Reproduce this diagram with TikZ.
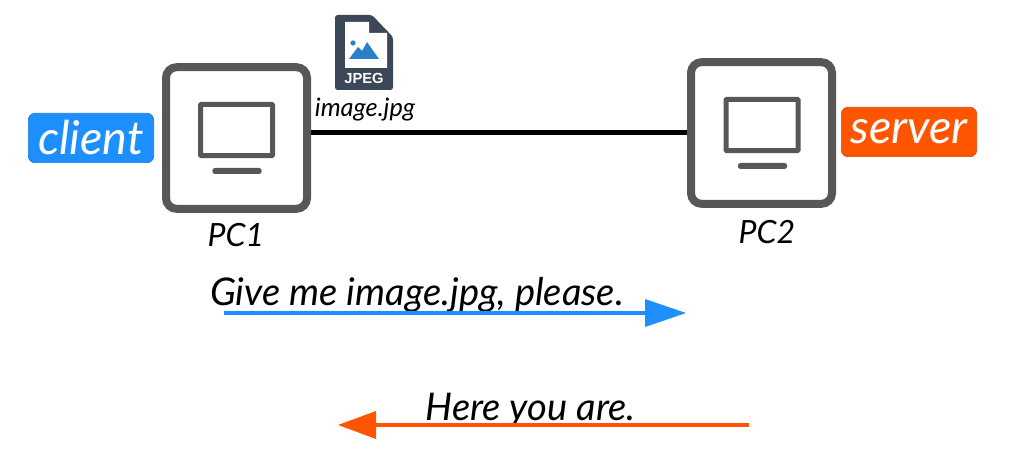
\documentclass[tikz,border=0pt]{standalone}
\usepackage{fontspec}
\setmainfont{Liberation Sans}
\newfontfamily\hand{Lato}
\definecolor{pcgrey}{HTML}{575757}
\definecolor{cblue}{HTML}{1E8FFF}
\definecolor{corange}{HTML}{FF5500}
\definecolor{filedark}{HTML}{3C4858}
\definecolor{fileblue}{HTML}{2A7FC9}
\tikzset{
 pcbox/.style={draw=pcgrey,line width=6pt,rounded corners=8pt,minimum width=105.75pt,minimum height=106.25pt,inner sep=0pt,fill=white},
 screen/.style={draw=pcgrey,line width=3.75pt,rounded corners=0.6pt,minimum width=54pt,minimum height=38.5pt,inner sep=0pt,fill=white},
 standbar/.style={fill=pcgrey,rounded corners=2pt,minimum width=37pt,minimum height=4.5pt,inner sep=0pt},
 tag/.style={rounded corners=5pt,draw=#1!85!black,line width=.5pt,fill=#1,text=white,inner sep=0pt,minimum height=37pt,font=\hand\itshape\fontsize{35}{38}\selectfont},
 words/.style={text=black,inner sep=0pt,font=\hand\itshape\fontsize{28.6}{32}\selectfont},
 small/.style={text=black,inner sep=0pt,font=\hand\itshape\fontsize{19}{22}\selectfont},
 pclabel/.style={text=black,inner sep=0pt,font=\hand\itshape\fontsize{24}{28}\selectfont},
 msg/.style={line width=2.4pt},
}
\begin{document}
\begin{tikzpicture}[x=0.75pt,y=-0.75pt]
\useasboundingbox (0,0) rectangle (1010,470);
\fill[white] (0,0) rectangle (1010,470);
% hosts
\node[pcbox] (pc1) at (236.5,138) {};
\node[screen] (scr1) at (236.5,130) {};
\node[standbar] (bar1) at (237,171) {};
\node[pcbox] (pc2) at (761.5,133) {};
\node[screen] (scr2) at (762,125) {};
\node[standbar] (bar2) at (762.5,166) {};
\draw[black,line width=3.75pt] (pc1.east |- pc2.west) -- (pc2.west);
% tags
\node[tag=cblue,minimum width=94pt] (client) at (91,138) {client};
\node[tag=corange,minimum width=101.5pt] (server) at (909,132) {server};
% labels
\node[pclabel] (l1) at (236,235) {PC1};
\node[pclabel] (l2) at (767,232) {PC2};
\node[small] (fname) at (365,110) {image.jpg};
% file icon
\fill[filedark,rounded corners=2pt] (335,15) -- (372,15) -- (393,37) -- (393,90) -- (335,90) -- cycle;
\fill[white] (345,22) -- (369,22) -- (369,33) -- (387,33) -- (387,68) -- (345,68) -- cycle;
\fill[fileblue] (349,59) -- (358,47) -- (362,51) -- (367,42) -- (379,59) -- cycle;
\fill[fileblue] (353,43) circle[radius=2.6];
\node[text=white,inner sep=0pt,font=\bfseries\fontsize{11}{12}\selectfont] (jpeg) at (364,78.5) {JPEG};
% messages
\node[words] (m1) at (417,295) {Give me image.jpg, please.};
\node[words] (m2) at (530.5,410) {Here you are.};
\coordinate (a1) at (224,313);
\coordinate (a2) at (645,313);
\coordinate (b1) at (749,425);
\coordinate (b2) at (376,425);
\draw[cblue,msg] (a1) -- (a2);
\fill[cblue] (645,299) -- (686,313) -- (645,327) -- cycle;
\draw[corange,msg] (b1) -- (b2);
\fill[corange] (376,411) -- (338,425) -- (376,439) -- cycle;
\end{tikzpicture}
\end{document}
